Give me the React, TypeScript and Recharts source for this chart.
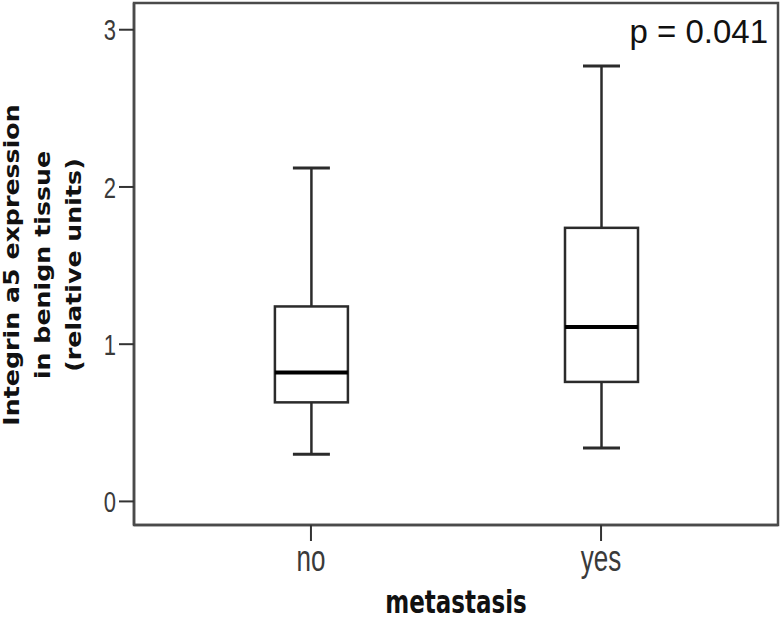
import { ComposedChart, Bar, XAxis, YAxis, ReferenceArea, Customized } from 'recharts';

// box plot values
const groups = ['no', 'yes'];
const groupPos = [1, 2];
const whiskerLow = [0.3, 0.34];
const quartile1 = [0.63, 0.76];
const medians = [0.82, 1.11];
const quartile3 = [1.24, 1.74];
const whiskerHigh = [2.12, 2.77];
const yTicks = [0, 1, 2, 3];
const yDomain = [-0.15, 3.17];
const xDomain = [0.39, 2.61];
const yLabelLines = ['Integrin a5 expression', 'in benign tissue', '(relative units)'];

const data = groups.map((g, i) => ({
  group: g,
  pos: groupPos[i],
  range: [whiskerLow[i], whiskerHigh[i]],
  low: whiskerLow[i],
  q1: quartile1[i],
  median: medians[i],
  q3: quartile3[i],
  high: whiskerHigh[i],
}));

const FRAME = '#4a4a4a';
const INK = '#2b2b2b';

function BoxShape(props: any) {
  const { x, y, width, height, payload } = props;
  const top = Math.min(y, y + height);
  const bottom = Math.max(y, y + height);
  const { low, high, q1, median, q3 } = payload;
  // linear map inside the whisker range (same scale the bar used)
  const toPx = (v: number) => bottom - ((v - low) / (high - low)) * (bottom - top);
  const cx = x + width / 2;
  const cap = 18.5;
  return (
    <g>
      <line x1={cx} x2={cx} y1={toPx(high)} y2={toPx(q3)} stroke={INK} strokeWidth={2.5} />
      <line x1={cx} x2={cx} y1={toPx(q1)} y2={toPx(low)} stroke={INK} strokeWidth={2.5} />
      <line x1={cx - cap} x2={cx + cap} y1={toPx(high)} y2={toPx(high)} stroke={INK} strokeWidth={3} />
      <line x1={cx - cap} x2={cx + cap} y1={toPx(low)} y2={toPx(low)} stroke={INK} strokeWidth={3} />
      <rect
        x={x}
        y={toPx(q3)}
        width={width}
        height={toPx(q1) - toPx(q3)}
        fill="#fff"
        stroke={INK}
        strokeWidth={2.5}
      />
      <line x1={x} x2={x + width} y1={toPx(median)} y2={toPx(median)} stroke="#000" strokeWidth={4} />
    </g>
  );
}

function YTick({ x, y, payload }: any) {
  return (
    <text
      transform={`translate(${x},${y}) scale(1,1.35)`}
      textAnchor="end"
      dy="0.36em"
      fill="#3a3a3a"
      fontSize={22}
      fontFamily="'Liberation Sans', Arial, sans-serif"
    >
      {payload.value}
    </text>
  );
}

function XTick({ x, y, payload }: any) {
  const name = groups[groupPos.indexOf(payload.value)] ?? payload.value;
  return (
    <text
      transform={`translate(${x},${y + 28}) scale(1,1.4)`}
      textAnchor="middle"
      fill="#3a3a3a"
      fontSize={26}
      fontFamily="'Liberation Sans', Arial, sans-serif"
    >
      {name}
    </text>
  );
}

function XTitle({ viewBox }: any) {
  const cx = viewBox.x + viewBox.width / 2;
  return (
    <text
      transform={`translate(${cx},${viewBox.y + 88}) scale(1,1.4)`}
      textAnchor="middle"
      fill="#111"
      fontSize={23}
      fontWeight="bold"
      fontFamily="'DejaVu Sans', Verdana, sans-serif"
    >
      metastasis
    </text>
  );
}

function YTitle({ viewBox }: any) {
  const cy = viewBox.y + viewBox.height / 2 + 1;
  const baselines = [19, 50, 81];
  return (
    <g>
      {yLabelLines.map((line, i) => (
        <text
          key={line}
          transform={`translate(${baselines[i]},${cy}) scale(1,1.15) rotate(-90)`}
          textAnchor="middle"
          fill="#111"
          fontSize={22}
          fontWeight="bold"
          fontFamily="'DejaVu Sans', Verdana, sans-serif"
        >
          {line}
        </text>
      ))}
    </g>
  );
}

function PValue() {
  return (
    <text
      x={768}
      y={43}
      textAnchor="end"
      fill="#111"
      fontSize={33}
      fontFamily="'Liberation Sans', Arial, sans-serif"
    >
      p = 0.041
    </text>
  );
}

export default function App() {
  return (
    <div style={{ position: 'absolute', left: 0, top: 0, background: '#fff' }}>
      <ComposedChart
        width={782}
        height={621}
        data={data}
        margin={{ top: 3, right: 4, bottom: 0, left: 0 }}
      >
        <XAxis
          dataKey="pos"
          type="number"
          domain={xDomain}
          ticks={groupPos}
          allowDataOverflow
          height={96}
          axisLine={{ stroke: FRAME, strokeWidth: 2.5 }}
          tickLine={{ stroke: '#333', strokeWidth: 2 }}
          tickSize={16}
          tickMargin={2}
          tick={<XTick />}
          label={{ content: <XTitle /> }}
        />
        <YAxis
          type="number"
          domain={yDomain}
          ticks={yTicks}
          allowDataOverflow
          width={134}
          axisLine={{ stroke: FRAME, strokeWidth: 2.5 }}
          tickLine={{ stroke: '#333', strokeWidth: 2 }}
          tickSize={15}
          tickMargin={3}
          tick={<YTick />}
          label={{ content: <YTitle /> }}
        />
        {/* full plot frame */}
        <ReferenceArea
          x1={xDomain[0]}
          x2={xDomain[1]}
          y1={yDomain[0]}
          y2={yDomain[1]}
          fill="none"
          stroke={FRAME}
          strokeWidth={2.5}
          ifOverflow="visible"
        />
        <Bar dataKey="range" barSize={73} shape={<BoxShape />} isAnimationActive={false} />
        <Customized component={<PValue />} />
      </ComposedChart>
    </div>
  );
}
